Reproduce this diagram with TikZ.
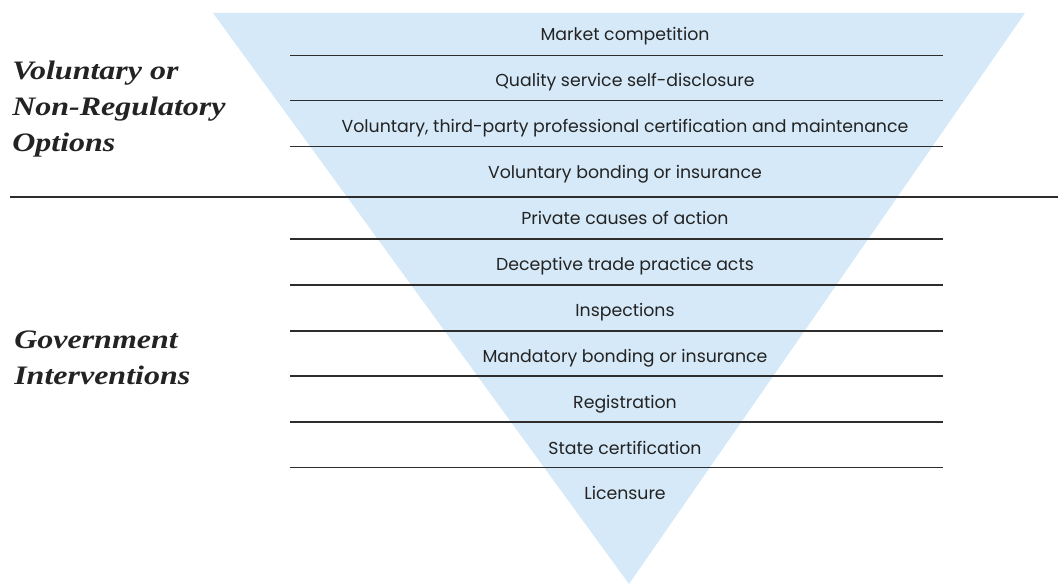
\documentclass[tikz,border=0pt]{standalone}
\usepackage{fontspec}
\newfontfamily\itemfont{Poppins}
\newfontfamily\groupfont[FakeStretch=1.2]{Liberation Serif}
\definecolor{funnelblue}{RGB}{213,233,248}
\definecolor{rulegray}{RGB}{45,45,45}
\definecolor{inkgray}{RGB}{35,35,35}
\begin{document}
\begin{tikzpicture}[x=0.75pt,y=-0.75pt,
  itemlabel/.style={inner sep=0pt,anchor=base,text=inkgray,
    font=\itemfont\fontsize{13}{15}\selectfont},
  grouplabel/.style={inner sep=0pt,anchor=base west,align=left,text=inkgray,
    font=\groupfont\bfseries\itshape\fontsize{20}{27.2}\selectfont},
  rowrule/.style={draw=rulegray,line width=0.95pt},
  splitrule/.style={draw=rulegray,line width=1.6pt}]
\useasboundingbox (0,0) rectangle (1058,584);

% inverted funnel
\coordinate (tl) at (213,13);
\coordinate (tr) at (1025,13);
\coordinate (apex) at (629,584);
\fill[funnelblue] (tl) -- (tr) -- (apex) -- cycle;

% thin rules between the rows
\foreach \yy in {55.7,100.7,146.7,239,285,331,376,422,467.7}
  \draw[rowrule] (290,\yy) -- (943,\yy);
% rule splitting voluntary options from government interventions
\coordinate (splitL) at (10,196.7);
\coordinate (splitR) at (1058,196.7);
\draw[splitrule] (splitL) -- (splitR);

% row labels
\foreach \txt [count=\k] in {Market competition,
  Quality service self-disclosure,
  {Voluntary, third-party professional certification and maintenance},
  Voluntary bonding or insurance,
  Private causes of action,
  Deceptive trade practice acts,
  Inspections,
  Mandatory bonding or insurance,
  Registration,
  State certification,
  Licensure}
  \node[itemlabel] (row\k) at (625,{40.7+45.93*(\k-1)}) {\txt};

% group labels (anchored at the baseline of their last line)
\node[grouplabel] (voluntary) at (12,151.7) {Voluntary or\\Non-Regulatory\\Options};
\node[grouplabel] (government) at (14,385) {Government\\Interventions};
\end{tikzpicture}
\end{document}
